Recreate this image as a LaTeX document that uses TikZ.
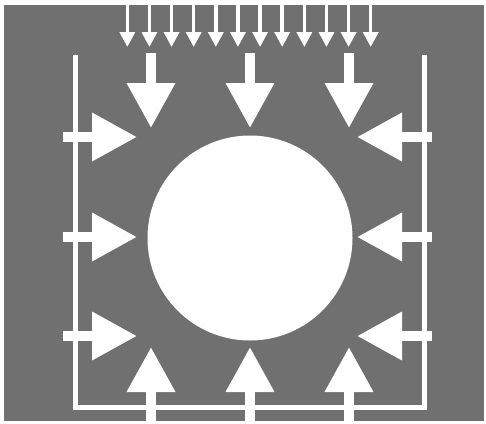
\documentclass[tikz,border=0pt]{standalone}
\usetikzlibrary{arrows.meta}
\definecolor{slab}{RGB}{112,112,112}
\begin{document}
\begin{tikzpicture}[x=1pt,y=-1pt,
  load/.style={white,line width=3.5pt,-{Triangle[length=15pt,width=15pt]}},
  push/.style={white,line width=10pt,-{Triangle[length=45pt,width=46pt]}}]
% ground block with a round opening under pressure
\useasboundingbox (0,0) rectangle (486,423);
\fill[slab] (4,5) rectangle (484,421);
\fill[white] (250,238) circle (102.5);
\draw[white,line width=5pt] (75,55) -- (75,407) -- (424,407) -- (424,55);
% surface load
\foreach \i in {0,...,11}
  \draw[load] (127.3+22.13*\i,5) -- (127.3+22.13*\i,47);
% pressure on the lining
\foreach \x in {151,250,349} {
  \draw[push] (\x,53) -- (\x,128);
  \draw[push] (\x,421) -- (\x,347);
}
\foreach \y in {137,237,336} {
  \draw[push] (63,\y) -- (137,\y);
  \draw[push] (432,\y) -- (357,\y);
}
\end{tikzpicture}
\end{document}
